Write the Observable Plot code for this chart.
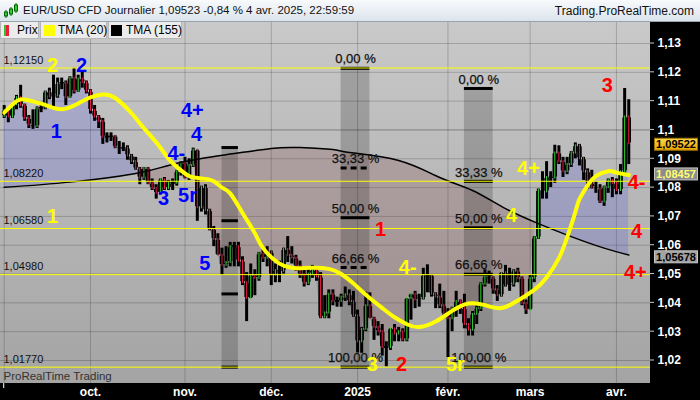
<!DOCTYPE html>
<html><head><meta charset="utf-8">
<script src="https://cdn.jsdelivr.net/npm/d3@7"></script>
<script src="https://cdn.jsdelivr.net/npm/@observablehq/plot@0.6"></script>
<style>
html,body{margin:0;padding:0;background:#000;}
#wrap{position:relative;width:700px;height:400px;overflow:hidden;font-family:"Liberation Sans",Arial,sans-serif;}
#hdr{position:relative;height:21px;border-bottom:1px solid #98a2ac;background:linear-gradient(#f8fafc,#dbe4ec);}
#hdr .ttl{position:absolute;left:23px;top:4px;font-size:11.5px;color:#111;white-space:nowrap;}
#hdr .site{position:absolute;right:6px;top:4px;font-size:12px;color:#111;white-space:nowrap;}
#hdr svg{position:absolute;left:4px;top:3px;}
#chart svg{display:block;}
.li{position:absolute;top:22px;height:17px;background:#ececec;border:1px solid #b6b6b6;border-top:none;box-sizing:border-box;font-size:12px;color:#000;}
.li span.tx{position:absolute;top:1px;line-height:15px;white-space:nowrap;}
.li span.sq{position:absolute;top:3px;width:11px;height:11px;}
</style></head>
<body>
<div id="wrap">
  <div id="hdr">
    <svg width="14" height="16" viewBox="0 0 14 16">
      <line x1="2" y1="7" x2="2" y2="15" stroke="#060" /><rect x="0.5" y="9" width="3" height="4" fill="#3c3" stroke="#060"/>
      <line x1="7" y1="4" x2="7" y2="13" stroke="#060" /><rect x="5.5" y="6" width="3" height="5" fill="#3c3" stroke="#060"/>
      <line x1="12" y1="0" x2="12" y2="10" stroke="#060" /><rect x="10.5" y="2" width="3" height="6" fill="#3c3" stroke="#060"/>
    </svg>
    <span class="ttl">EUR/USD CFD Journalier 1,09523 -0,84 % 4 avr. 2025, 22:59:59</span>
    <span class="site">Trading.ProRealTime.com</span>
  </div>
  <div id="chart"></div>
  <div class="li" style="left:0;width:39px;"><span class="sq" style="left:3px;top:3px;width:5px;height:11px;background:linear-gradient(90deg,#2fc52f 50%,#e8203c 50%);"></span><span class="tx" style="left:16px;">Prix</span></div>
  <div class="li" style="left:40px;width:67px;"><span class="sq" style="left:3px;background:#ffff00;"></span><span class="tx" style="left:17px;">TMA (20)</span></div>
  <div class="li" style="left:108px;width:74px;"><span class="sq" style="left:2px;background:#000;"></span><span class="tx" style="left:17px;">TMA (155)</span></div>
</div>
<script>
// ---- Daily bars, 2 Sept 2024 .. 4 Apr 2025 (trading days) ----
const firstOpen = 1.1047;
const closes = [
  1.1068,1.1045,1.1088,1.1112,1.1085,1.1040,1.1017,1.1012,1.1074,1.1076,1.1132,1.1115,1.1118,1.1161,1.1163,1.1112,1.1180,1.1134,1.1177,1.1164,1.1134,
  1.1068,1.1045,1.1030,1.0975,1.0975,1.0978,1.0940,1.0935,1.0937,1.0910,1.0890,1.0865,1.0833,1.0866,1.0815,1.0797,1.0780,1.0827,1.0797,1.0815,1.0815,1.0855,1.0885,
  1.0833,1.0877,1.0930,1.0730,1.0800,1.0720,1.0655,1.0620,1.0565,1.0530,1.0540,1.0595,1.0595,1.0545,1.0470,1.0415,1.0495,1.0485,1.0570,1.0555,1.0575,
  1.0497,1.0512,1.0510,1.0585,1.0565,1.0555,1.0527,1.0497,1.0468,1.0500,1.0513,1.0490,1.0350,1.0365,1.0430,1.0405,1.0405,1.0420,1.0428,1.0405,1.0355,
  1.0265,1.0308,1.0390,1.0345,1.0315,1.0300,1.0245,1.0245,1.0310,1.0292,1.0300,1.0272,1.0415,1.0430,1.0410,1.0415,1.0495,1.0495,1.0430,1.0420,1.0390,1.0360,
  1.0345,1.0380,1.0405,1.0380,1.0325,1.0305,1.0360,1.0380,1.0465,1.0490,1.0485,1.0445,1.0425,1.0505,1.0460,1.0465,1.0510,1.0485,1.0398,1.0375,
  1.0485,1.0625,1.0790,1.0785,1.0835,1.0833,1.0920,1.0890,1.0855,1.0880,1.0920,1.0945,1.0900,1.0855,1.0815,1.0800,1.0795,1.0750,1.0800,1.0825,1.0815,
  1.0790,1.0855,1.1045,1.0952
];
const highs = [
  1.1085,1.1075,1.1090,1.1120,1.1155,1.1090,1.1050,1.1070,1.1080,1.1095,1.1135,1.1145,1.1190,1.1180,1.1180,1.1170,1.1185,1.1214,1.1190,1.1200,1.1170,
  1.1140,1.1085,1.1050,1.1040,1.0990,1.0990,1.0980,1.0960,1.0955,1.0945,1.0915,1.0905,1.0870,1.0870,1.0870,1.0830,1.0810,1.0830,1.0835,1.0825,1.0830,1.0860,1.0890,
  1.0905,1.0900,1.0937,1.0930,1.0805,1.0810,1.0725,1.0665,1.0640,1.0590,1.0595,1.0610,1.0610,1.0610,1.0560,1.0505,1.0535,1.0515,1.0575,1.0590,1.0595,
  1.0580,1.0535,1.0545,1.0590,1.0630,1.0595,1.0565,1.0545,1.0515,1.0525,1.0530,1.0525,1.0505,1.0425,1.0445,1.0445,1.0420,1.0430,1.0455,1.0445,1.0440,
  1.0375,1.0315,1.0437,1.0435,1.0350,1.0335,1.0325,1.0265,1.0310,1.0325,1.0315,1.0310,1.0415,1.0430,1.0440,1.0430,1.0520,1.0532,1.0495,1.0435,1.0465,1.0440,
  1.0380,1.0385,1.0440,1.0410,1.0430,1.0345,1.0370,1.0390,1.0470,1.0515,1.0510,1.0490,1.0460,1.0505,1.0530,1.0520,1.0515,1.0520,1.0490,1.0410,
  1.0495,1.0630,1.0795,1.0855,1.0890,1.0855,1.0947,1.0945,1.0905,1.0905,1.0925,1.0955,1.0950,1.0905,1.0865,1.0860,1.0820,1.0810,1.0805,1.0830,1.0835,
  1.0830,1.0880,1.1144,1.1105
];
const lows = [
  1.1040,1.1025,1.1040,1.1070,1.1075,1.1030,1.1005,1.1002,1.1005,1.1060,1.1070,1.1105,1.1080,1.1110,1.1140,1.1085,1.1110,1.1125,1.1130,1.1145,1.1125,
  1.1055,1.1030,1.1005,1.0950,1.0955,1.0960,1.0935,1.0915,1.0925,1.0895,1.0880,1.0860,1.0810,1.0825,1.0810,1.0790,1.0760,1.0775,1.0790,1.0790,1.0790,1.0805,1.0840,
  1.0830,1.0825,1.0870,1.0683,1.0715,1.0705,1.0650,1.0595,1.0565,1.0495,1.0520,1.0525,1.0525,1.0525,1.0460,1.0335,1.0420,1.0425,1.0475,1.0540,1.0525,
  1.0460,1.0470,1.0470,1.0500,1.0540,1.0535,1.0510,1.0485,1.0455,1.0460,1.0485,1.0475,1.0345,1.0345,1.0345,1.0390,1.0385,1.0385,1.0405,1.0390,1.0350,
  1.0226,1.0225,1.0300,1.0345,1.0270,1.0285,1.0215,1.0178,1.0235,1.0265,1.0265,1.0265,1.0265,1.0340,1.0380,1.0385,1.0410,1.0435,1.0420,1.0380,1.0380,1.0345,
  1.0210,1.0300,1.0350,1.0360,1.0310,1.0285,1.0285,1.0325,1.0370,1.0455,1.0465,1.0430,1.0405,1.0420,1.0455,1.0440,1.0455,1.0470,1.0390,1.0360,
  1.0375,1.0470,1.0620,1.0760,1.0760,1.0800,1.0815,1.0880,1.0835,1.0845,1.0870,1.0900,1.0875,1.0825,1.0795,1.0795,1.0780,1.0745,1.0735,1.0780,1.0765,
  1.0775,1.0775,1.0850,1.0880
];

// ---- Indicators (bar index, value) ----
const tma20Idx = [0,2,4,7,10,14,18,21,24,27,31,34,37,40,42,45,48,51,53,55,58,61,63,67,70,72,75,79,82,85,88,92,95,98,101,105,109,113,117,121,125,129,132,135,137,139,140,142,144,147,149,152];
const tma20Val = [1.1060,1.1088,1.1106,1.1099,1.1087,1.1072,1.1092,1.1113,1.1123,1.1111,1.1058,1.1006,1.0957,1.0900,1.0872,1.0840,1.0832,1.0822,1.0800,1.0780,1.0712,1.0642,1.0590,1.0536,1.0522,1.0520,1.0522,1.0518,1.0500,1.0467,1.0428,1.0382,1.0350,1.0326,1.0316,1.0335,1.0372,1.0398,1.0392,1.0382,1.0408,1.0445,1.0488,1.0555,1.0627,1.0715,1.0760,1.0808,1.0840,1.0857,1.0852,1.0844];
const tma155Idx = [0,16,32,40,48,56,65,72,80,84,96,106,114,122,130,138,146,152];
const tma155Val = [1.0801,1.0819,1.0849,1.0877,1.0901,1.0918,1.0936,1.0939,1.0932,1.0922,1.0894,1.0835,1.0790,1.0727,1.0675,1.0630,1.0590,1.0566];

// ---- Axes ----
const yTicks = [1.02,1.03,1.04,1.05,1.06,1.07,1.08,1.09,1.10,1.11,1.12,1.13];
const yTickLabels = ["1,02","1,03","1,04","1,05","1,06","1,07","1,08","1,09","1,1","1,11","1,12","1,13"];
const monthIdx = [0,21,44,65,86,108,128,149];
const monthLabels = ["","oct.","nov.","déc.","2025","févr.","mars","avr."];

// ---- Horizontal levels ----
const hLevels = [1.12150,1.08220,1.06580,1.04980,1.01770];
const hLabels = ["1,12150","1,08220","1,06580","1,04980","1,01770"];

// ---- Fibonacci retracement boxes ----
const fibStart = [53,82,112];
const fibEnd = [57,89,119];
const fibHigh = [1.0939,1.1214,1.1144];
const fibLow = [1.0177,1.0177,1.0177];
const fibPcts = [[0,33.33,66.66,100],[0,33.33,50,66.66,100],[0,33.33,50,66.66,100]];
const fibShowLabels = [false,true,true];
const fibDashed = [[],[33.33,66.66],[]];
const pctLabel = {0:"0,00 %",33.33:"33,33 %",50:"50,00 %",66.66:"66,66 %",100:"100,00 %"};

// ---- Wave labels ----
const waveText  = ["2","2","1","4+","4","4-","3","5r","5","1","3","4-","4","4+","1","2","3","5r","4-","4+","4"];
const waveIdx   = [11.8,18.8,12.7,45.8,46.8,41.9,38.8,44.6,48.8,11.8,146.8,153.9,153.9,153.6,91.6,96.7,89.6,109.8,98.2,127.6,123.5];
const wavePrice = [1.1225,1.1225,1.0995,1.1068,1.0984,1.0918,1.0762,1.0773,1.0537,1.0700,1.1154,1.0818,1.0648,1.0505,1.0655,1.0186,1.0186,1.0186,1.0523,1.0866,1.0703];
const waveColor = ["#ffff00","#0000ff","#0000ff","#0000ff","#0000ff","#0000ff","#0000ff","#0000ff","#0000ff","#ffff00","#ff0000","#ff0000","#ff0000","#ff0000","#ff0000","#ff0000","#ffff00","#ffff00","#ffff00","#ffff00","#ffff00"];

// ---- Last-value boxes on the price axis ----
const boxVals = [1.09522,1.08457,1.05678];
const boxLabels = ["1,09522","1,08457","1,05678"];
const boxFill = ["url(#goldGrad)","#8c8c8c","#a2a2a2"];
const boxStroke = ["#9a7400","#c4c4c4","#c4c4c4"];
const boxTextColor = ["#000","#ffff70","#000"];
const boxNudge = [1,0,2.8];

// ---- build tables ----
const bars = closes.map((c,i)=>{
  const o = i ? closes[i-1] : firstOpen;
  return {i, open:o, close:c, high:Math.max(highs[i],o,c), low:Math.min(lows[i],o,c),
    lo:Math.min(o,c), hi:Math.max(o,c), col: c>=o ? "#33d833" : "#f0184a"};
});
const tma20 = tma20Idx.map((x,k)=>({x, v:tma20Val[k]}));
const tma155 = tma155Idx.map((x,k)=>({x, v:tma155Val[k]}));
const bands = fibStart.map((s,k)=>({x1:s, x2:fibEnd[k], y1:fibLow[k], y2:fibHigh[k]}));
const fibTicks = [];
fibStart.forEach((s,k)=>{
  fibPcts[k].forEach(p=>{
    fibTicks.push({x1:s, x2:fibEnd[k], xc:(s+fibEnd[k])/2, y: fibHigh[k]-p/100*(fibHigh[k]-fibLow[k]),
      label: pctLabel[p], show: fibShowLabels[k], dashed: fibDashed[k].includes(p)});
  });
});
const waves = waveText.map((t,k)=>({t, x:waveIdx[k], y:wavePrice[k], c:waveColor[k]}));
const months = monthIdx.map((m,k)=>({m, label:monthLabels[k]}));

const Y0 = 1.01202, Y1 = 1.13729;
const FF = "Liberation Sans, Arial, sans-serif";

const plot = Plot.plot({
  width: 700, height: 378,
  marginLeft: 0, marginRight: 50, marginTop: 0, marginBottom: 17,
  style: {background: "#000", fontFamily: FF, overflow: "hidden"},
  x: {type: "linear", domain: [-0.9, 157.29], axis: null},
  y: {type: "linear", domain: [Y0, Y1], axis: null},
  color: {type: "identity"},
  marks: [
    Plot.ruleY(yTicks, {stroke: "#000", strokeOpacity: d => Math.abs(d-1.10)<1e-9 ? 0.34 : 0.19}),
    Plot.ruleX(monthIdx, {stroke: "#000", strokeOpacity: 0.19}),
    // areas (order matters: fill-up, fill-down, clip-up, clip-down)
    Plot.areaY(bars, {x: "i", y1: "close", y2: Y0, fill: "rgb(60,60,236)", fillOpacity: 0.19}),
    Plot.areaY(bars, {x: "i", y1: "close", y2: Y1, fill: "rgb(122,52,52)", fillOpacity: 0.2}),
    Plot.areaY(tma155, {x: "x", y1: "v", y2: Y1, curve: "natural", fill: "#000"}),
    Plot.areaY(tma155, {x: "x", y1: "v", y2: Y0, curve: "natural", fill: "#000"}),
    Plot.rect(bands, {x1: "x1", x2: "x2", y1: "y1", y2: "y2", fill: "#000", fillOpacity: 0.18}),
    Plot.ruleY(fibTicks.filter(d=>!d.dashed), {y: "y", x1: "x1", x2: "x2", stroke: "#000", strokeWidth: 3}),
    Plot.ruleY(fibTicks.filter(d=>d.dashed), {y: "y", x1: "x1", x2: "x2", stroke: "#000", strokeWidth: 3, strokeDasharray: "6,4"}),
    // candles
    Plot.ruleX(bars, {x: "i", y1: "low", y2: "high", stroke: "#000", strokeWidth: 3}),
    Plot.ruleX(bars, {x: "i", y1: "lo", y2: "hi", stroke: "#000", strokeWidth: 4.5, insetTop: -1, insetBottom: -1}),
    Plot.ruleX(bars.filter(d => d.hi - d.lo > 0.0007), {x: "i", y1: "lo", y2: "hi", stroke: "col", strokeWidth: 1, insetTop: 1, insetBottom: 1}),
    Plot.line(tma155, {x: "x", y: "v", curve: "natural", stroke: "#000", strokeWidth: 1.5}),
    Plot.line(tma20, {x: "x", y: "v", curve: "natural", stroke: "#ffff00", strokeWidth: 4}),
    Plot.ruleY(hLevels, {stroke: "#ffff00", strokeWidth: 1}),
    // texts
    Plot.text(hLevels, {y: d=>d, text: (d,i)=>hLabels[i], frameAnchor: "left", dx: 3, dy: -8, textAnchor: "start", fill: "#111", fontSize: 11, fontFamily: FF}),
    Plot.text(fibTicks.filter(d=>d.show), {x: "xc", y: "y", text: "label", dy: -9, fill: "#111", stroke: "#111", strokeWidth: 0.25, fontSize: 13, fontFamily: FF}),
    Plot.text(waves, {x: "x", y: "y", text: "t", fill: "c", fontSize: 20, fontWeight: "bold", fontFamily: FF}),
    Plot.text(["ProRealTime Trading"], {frameAnchor: "bottom-left", lineAnchor: "middle", dx: 3, dy: -7, textAnchor: "start", fill: "#333", fontSize: 11.5, fontFamily: FF}),
    Plot.text(yTicks, {y: d=>d, text: (d,i)=>yTickLabels[i], frameAnchor: "right", dx: 7, textAnchor: "start", fill: "#fff", fontWeight: "bold", fontSize: 12, fontFamily: FF}),
    Plot.text(months.filter(d=>d.label), {x: "m", text: "label", frameAnchor: "bottom", lineAnchor: "middle", dy: 9, fill: "#fff", fontWeight: "bold", fontSize: 12, fontFamily: FF})
  ]
});

// ---- post-processing with Plot's own scales ----
const svg = d3.select(plot);
const sx = plot.scale("x"), sy = plot.scale("y");
const defs = svg.insert("defs", ":first-child");
const bg = defs.append("linearGradient").attr("id","bgGrad").attr("x1",0).attr("y1",0).attr("x2",0).attr("y2",1);
bg.append("stop").attr("offset","0%").attr("stop-color","#c9c9c9");
bg.append("stop").attr("offset","100%").attr("stop-color","#a4a4a4");
const gg = defs.append("linearGradient").attr("id","goldGrad").attr("x1",0).attr("y1",0).attr("x2",0).attr("y2",1);
gg.append("stop").attr("offset","0%").attr("stop-color","#ffd84a");
gg.append("stop").attr("offset","100%").attr("stop-color","#eaa400");
const xr = sx.range, yr = sy.range;
svg.insert("rect", "g").attr("x", Math.min(...xr)).attr("y", Math.min(...yr))
  .attr("width", Math.abs(xr[1]-xr[0])).attr("height", Math.abs(yr[1]-yr[0])).attr("fill","url(#bgGrad)");

const areaGroups = svg.selectAll('g[aria-label="area"]').nodes();
function makeClip(srcNode, id, targetNode){
  if (!srcNode || !targetNode) return;
  const g = d3.select(srcNode);
  const p = g.select("path");
  if (p.empty()) return;
  const cp = defs.append("clipPath").attr("id", id).append("path").attr("d", p.attr("d"));
  const tr = g.attr("transform");
  if (tr) cp.attr("transform", tr);
  g.remove();
  d3.select(targetNode).attr("clip-path", `url(#${id})`);
}
makeClip(areaGroups[2], "cUp", areaGroups[0]);
makeClip(areaGroups[3], "cDn", areaGroups[1]);

// price-axis tick marks
const ax = svg.append("g");
const xRight = Math.max(...xr);
yTicks.forEach(t=>{
  ax.append("line").attr("x1", xRight).attr("x2", xRight+4).attr("y1", sy.apply(t)).attr("y2", sy.apply(t))
    .attr("stroke","#c8c8c8").attr("stroke-width",1);
});
// first month tick on the time axis
ax.append("line").attr("x1", sx.apply(0)).attr("x2", sx.apply(0)).attr("y1", Math.max(...yr)).attr("y2", Math.max(...yr)+5)
  .attr("stroke","#fff").attr("stroke-width",1);
// last-value boxes
boxVals.forEach((v,k)=>{
  const cy = sy.apply(v) + boxNudge[k];
  ax.append("rect").attr("x", xRight+4.5).attr("y", cy-6).attr("width", 43).attr("height", 12)
    .attr("fill", boxFill[k]).attr("stroke", boxStroke[k]).attr("stroke-width", 1);
  ax.append("text").attr("x", xRight+26).attr("y", cy).attr("dy","0.35em").attr("text-anchor","middle")
    .attr("font-family", FF).attr("font-size", 11).attr("font-weight","bold").attr("fill", boxTextColor[k]).text(boxLabels[k]);
});

document.getElementById("chart").appendChild(plot);
</script>
</body></html>
